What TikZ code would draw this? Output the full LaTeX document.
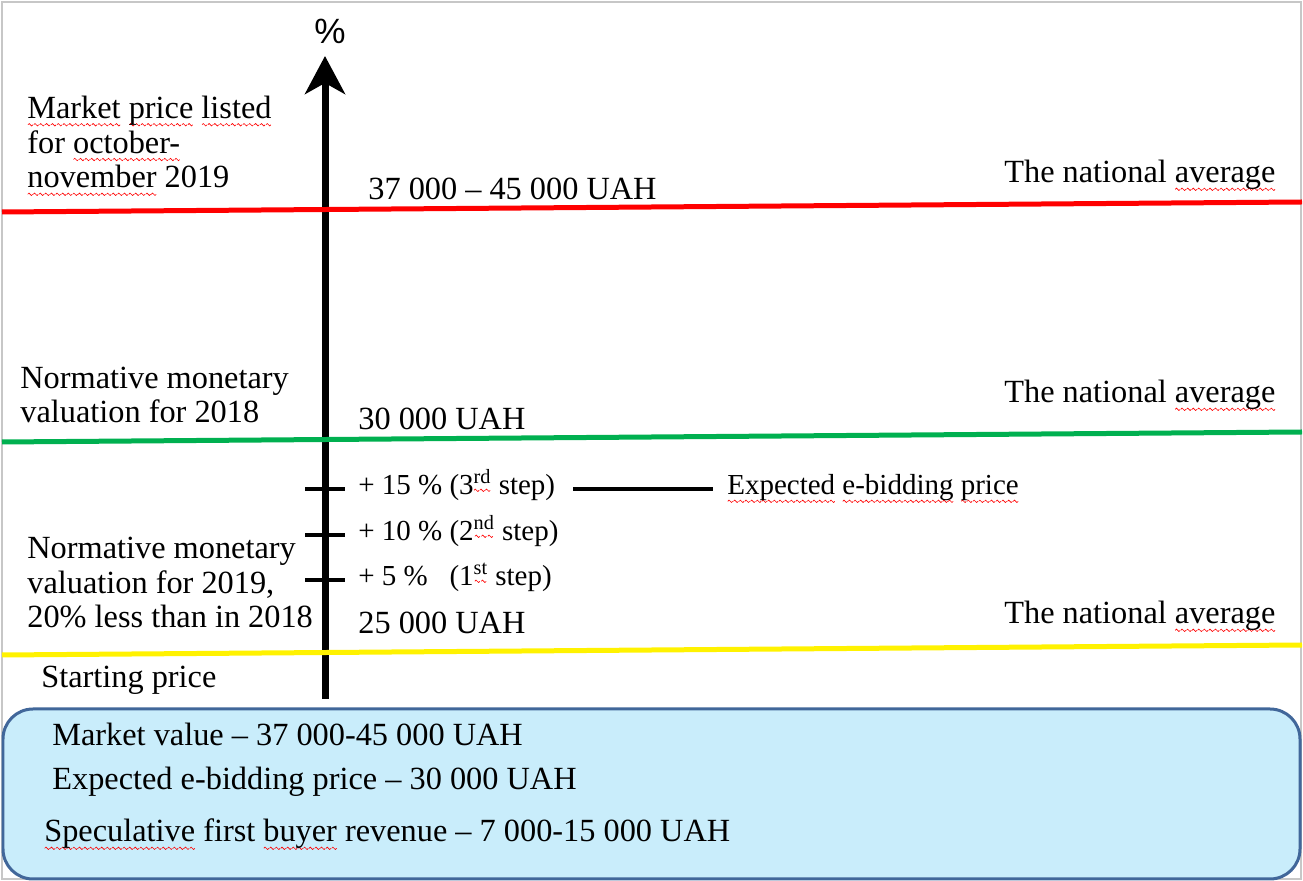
\documentclass[tikz,border=0pt]{standalone}
\usepackage{fontspec}
\usetikzlibrary{arrows.meta}
\setmainfont{Liberation Serif}
\newfontfamily\pcfont{Liberation Sans}
\definecolor{boxfill}{HTML}{C9EDFB}
\definecolor{boxedge}{HTML}{41679A}
\definecolor{lvlgreen}{HTML}{00B050}
% red wavy underline like a spell checker
\newcommand\wavepiece{\tikz[baseline=0pt]\draw[red,line width=0.35pt] (0,0) sin (0.7pt,0.7pt) cos (1.4pt,0) sin (2.1pt,-0.7pt) cos (2.8pt,0);}
\newcommand\sperr[1]{\setbox0\hbox{#1}\rlap{\raisebox{-3.6pt}[0pt][0pt]{\hbox to\wd0{\xleaders\hbox{\wavepiece}\hfil}}}\box0\relax}
\begin{document}
\begin{tikzpicture}[x=0.02cm,y=-0.02cm,
   lbl/.style={anchor=base west,inner sep=0pt,align=left,font=\fontsize{18.4}{19.8}\selectfont},
   steplbl/.style={anchor=base west,inner sep=0pt,font=\fontsize{16.5}{18}\selectfont},
   level/.style={line width=0.1cm},
   tickmark/.style={line width=0.08cm}]
   \useasboundingbox (0,0) rectangle (1303,881);
   \draw[black!22,line width=0.04cm] (2,2) rectangle (1301,879);
   % axis
   \draw[line width=0.14cm,-{Stealth[length=0.76cm,width=0.8cm,inset=0.22cm]}] (325,699) -- (325,56);
   \node[font=\pcfont\fontsize{20}{20}\selectfont] (pct) at (330,31) {\%};
   \foreach \y/\n in {489/t3,535/t2,580/t1}{
      \coordinate (\n) at (325,\y);
      \draw[tickmark] ([xshift=-0.4cm]\n) -- ([xshift=0.4cm]\n);
   }
   % levels
   \draw[level,red] (2,212) -- (1302,202);
   \draw[level,lvlgreen] (2,442) -- (1302,432);
   \draw[level,yellow] (2,655) -- (1302,645);
   % left side (base = last line)
   \node[lbl] (mkt) at (27,188) {\sperr{Market} \sperr{price} \sperr{listed}\\for \sperr{october-}\\\sperr{november} 2019};
   \node[lbl] (nmv18) at (20,423) {Normative monetary\\valuation for 2018};
   \node[lbl] (nmv19) at (27,628) {Normative monetary\\valuation for 2019,\\20\% less than in 2018};
   \node[lbl] (start) at (41,688) {Starting price};
   % values
   \node[lbl] (v45) at (368,200) {37 000 -- 45 000 UAH};
   \node[lbl] (v30) at (358,430) {30 000 UAH};
   \node[lbl] (v25) at (358,634) {25 000 UAH};
   \node[lbl] (avg1) at (1004,183) {The national \sperr{average}};
   \node[lbl] (avg2) at (1004,403) {The national \sperr{average}};
   \node[lbl] (avg3) at (1004,624) {The national \sperr{average}};
   % steps
   \node[steplbl] (s3) at (358,495) {+ 15 \% (3\textsuperscript{\sperr{rd}} step)};
   \node[steplbl] (s2) at (358,541) {+ 10 \% (2\textsuperscript{\sperr{nd}} step)};
   \node[steplbl] (s1) at (358,586) {+ 5 \%\phantom{0} (1\textsuperscript{\sperr{st}} step)};
   \node[steplbl] (exp) at (727,495) {\sperr{Expected} \sperr{e-bidding} \sperr{price}};
   \draw[tickmark] ([xshift=0.36cm]s3.east |- t3) -- ([xshift=-0.28cm]exp.west |- t3);
   % summary box
   \draw[boxedge,fill=boxfill,line width=0.06cm,rounded corners=0.6cm] (3,709) rectangle (1300,879);
   \node[lbl] (b1) at (52,746) {Market value -- 37 000-45 000 UAH};
   \node[lbl] (b2) at (52,790) {Expected e-bidding price -- 30 000 UAH};
   \node[lbl] (b3) at (44,842) {\sperr{Speculative} first \sperr{buyer} revenue -- 7 000-15 000 UAH};
\end{tikzpicture}
\end{document}
